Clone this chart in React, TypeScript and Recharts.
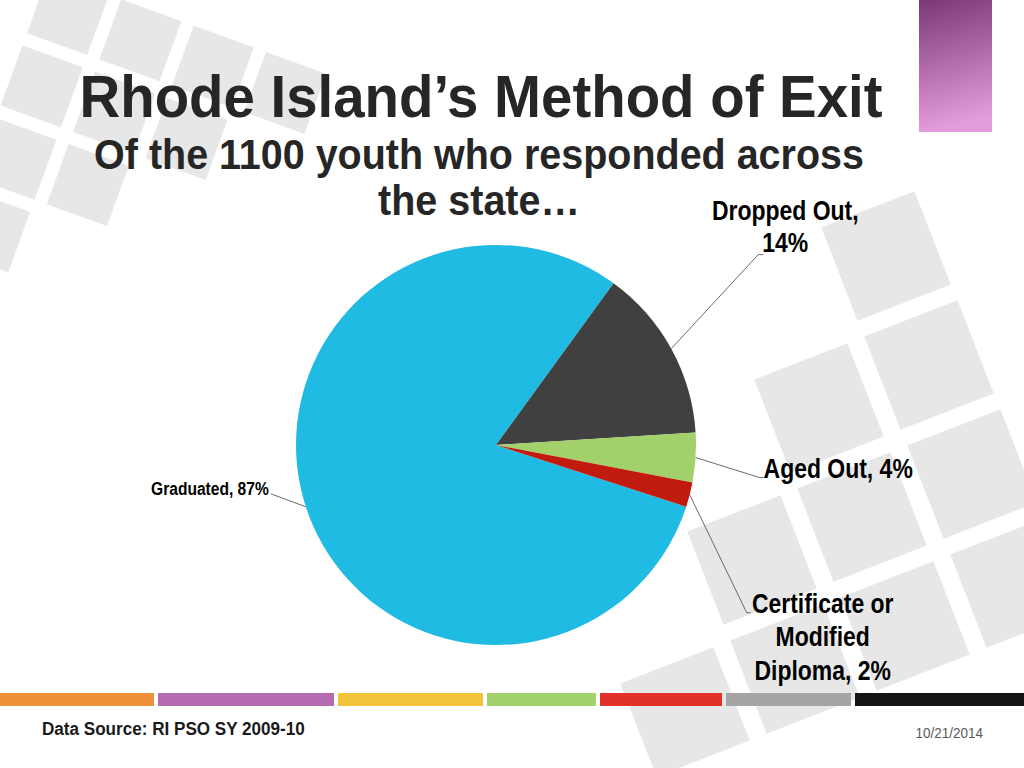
import { PieChart, Pie, Cell } from "recharts";

const categories = ["Graduated", "Dropped Out", "Aged Out", "Certificate or Modified Diploma"];
const shares = [80, 14, 4, 2];
const labelTexts = [
  ["Graduated, 87%"],
  ["Dropped Out,", "14%"],
  ["Aged Out, 4%"],
  ["Certificate or", "Modified", "Diploma, 2%"],
];
const sliceColors = ["#1FBBE3", "#404040", "#A2D16B", "#C11A0F"];

const stripColors = ["#F0913A", "#B46BAF", "#F1C43A", "#A3D16C", "#E1322A", "#A5A5A5", "#141414"];
const stripEdges = [0, 158, 338, 487, 600, 726, 855, 1024];

const pieData = categories.map((name, i) => ({ name, value: shares[i] }));

// where each callout sits, relative to the point on the rim
const labelLayout = [
  { dx: -35, dy: -13, hook: 0, anchor: "end", tx: -2, ty: 1, gap: 0, size: 19 },
  { dx: 87, dy: -94, hook: 5, anchor: "middle", tx: 27, ty: -35, gap: 32, size: 28 },
  { dx: 64, dy: 20, hook: 4, anchor: "start", tx: 4, ty: 0, gap: 0, size: 28 },
  { dx: 57, dy: 118, hook: 4, anchor: "middle", tx: 76, ty: 0, gap: 33.5, size: 28 },
];

const RADIAN = Math.PI / 180;
const sans = "'Liberation Sans', Arial, Helvetica, sans-serif";
// no condensed face installed, so squeeze the regular one
const NARROW = 0.82;

function renderLabel(props: any) {
  const { cx, cy, midAngle, outerRadius, index } = props;
  const lay = labelLayout[index];
  const sx = cx + outerRadius * Math.cos(-midAngle * RADIAN);
  const sy = cy + outerRadius * Math.sin(-midAngle * RADIAN);
  const ex = sx + lay.dx;
  const ey = sy + lay.dy;
  const lines = labelTexts[index];
  return (
    <g key={`lbl-${index}`}>
      <polyline
        points={`${sx},${sy} ${ex},${ey} ${ex + lay.hook},${ey}`}
        fill="none"
        stroke="#595959"
        strokeWidth={0.9}
      />
      <text
        transform={`translate(${ex + lay.tx},${ey + lay.ty}) scale(${NARROW},1)`}
        textAnchor={lay.anchor}
        fontFamily={sans}
        fontWeight="bold"
        fontSize={lay.size}
        fill="#000"
      >
        {lines.map((t, k) => (
          <tspan key={k} x={0} dy={k === 0 ? 0 : lay.gap}>
            {t}
          </tspan>
        ))}
      </text>
    </g>
  );
}

// background tiles: grid origin, step vectors, tile side, rotation, occupied cells
const tileGrids = [
  {
    ox: 68, oy: 14, rx: 72.4, ry: 26.3, dx: -26.3, dy: 72.4, side: 64, rot: 20,
    cells: [[0, 0], [1, 0], [2, 0], [3, 0], [0, 1], [1, 1], [2, 1], [0, 2], [1, 2], [0, 3]],
  },
  {
    ox: 752, oy: 560, rx: 110, ry: -43, dx: 43, dy: 109, side: 100, rot: -21.3,
    cells: [[0, 0], [1, 0], [2, 0], [1, -1], [2, -1], [2, -2], [-1, 1], [0, 1], [1, 1], [2, 1]],
  },
];

function SlideText({ x, y, size, sx, anchor, bold, fill, children }: any) {
  return (
    <text
      transform={`translate(${x},${y}) scale(${sx},1)`}
      textAnchor={anchor}
      fontFamily={sans}
      fontWeight={bold ? "bold" : "normal"}
      fontSize={size}
      fill={fill}
    >
      {children}
    </text>
  );
}

function Backdrop() {
  return (
    <svg width={1024} height={768} style={{ position: "absolute", left: 0, top: 0 }}>
      <defs>
        <linearGradient id="tab" x1="0" y1="0" x2="0.15" y2="1">
          <stop offset="0%" stopColor="#7C3779" />
          <stop offset="100%" stopColor="#E39CDC" />
        </linearGradient>
      </defs>
      <rect width={1024} height={768} fill="#fff" />
      {tileGrids.map((g, gi) =>
        g.cells.map(([i, j]) => {
          const x = g.ox + i * g.rx + j * g.dx;
          const y = g.oy + i * g.ry + j * g.dy;
          return (
            <rect
              key={`${gi}-${i}-${j}`}
              x={-g.side / 2}
              y={-g.side / 2}
              width={g.side}
              height={g.side}
              fill="#E7E7E7"
              transform={`translate(${x},${y}) rotate(${g.rot})`}
            />
          );
        })
      )}
      <rect x={919} y={0} width={73} height={132} fill="url(#tab)" />
      {stripColors.map((c, i) => (
        <rect
          key={c}
          x={stripEdges[i]}
          y={693}
          width={stripEdges[i + 1] - stripEdges[i] - (i === stripColors.length - 1 ? 0 : 4)}
          height={13}
          fill={c}
        />
      ))}
      <SlideText x={481} y={117} size={60} sx={0.94} anchor="middle" bold fill="#262626">
        Rhode Island’s Method of Exit
      </SlideText>
      <SlideText x={479} y={169} size={42} sx={0.94} anchor="middle" bold fill="#262626">
        Of the 1100 youth who responded across
      </SlideText>
      <SlideText x={479} y={215} size={42} sx={0.94} anchor="middle" bold fill="#262626">
        the state…
      </SlideText>
      <SlideText x={42} y={735} size={19} sx={0.9} anchor="start" bold fill="#1A1A1A">
        Data Source: RI PSO SY 2009-10
      </SlideText>
      <SlideText x={983} y={738} size={15} sx={0.9} anchor="end" fill="#595959">
        10/21/2014
      </SlideText>
    </svg>
  );
}

export default function App() {
  return (
    <div style={{ position: "absolute", left: 0, top: 0, width: 1024, height: 768, overflow: "hidden", background: "#fff" }}>
      <Backdrop />
      <div style={{ position: "absolute", left: 0, top: 0 }}>
        <PieChart width={1024} height={768} margin={{ top: 0, right: 0, bottom: 0, left: 0 }}>
          <Pie
            data={pieData}
            dataKey="value"
            nameKey="name"
            cx={496}
            cy={445}
            outerRadius={200}
            startAngle={-18}
            endAngle={-378}
            stroke="none"
            label={renderLabel}
            labelLine={false}
            isAnimationActive={false}
          >
            {pieData.map((d, i) => (
              <Cell key={d.name} fill={sliceColors[i]} />
            ))}
          </Pie>
        </PieChart>
      </div>
    </div>
  );
}
